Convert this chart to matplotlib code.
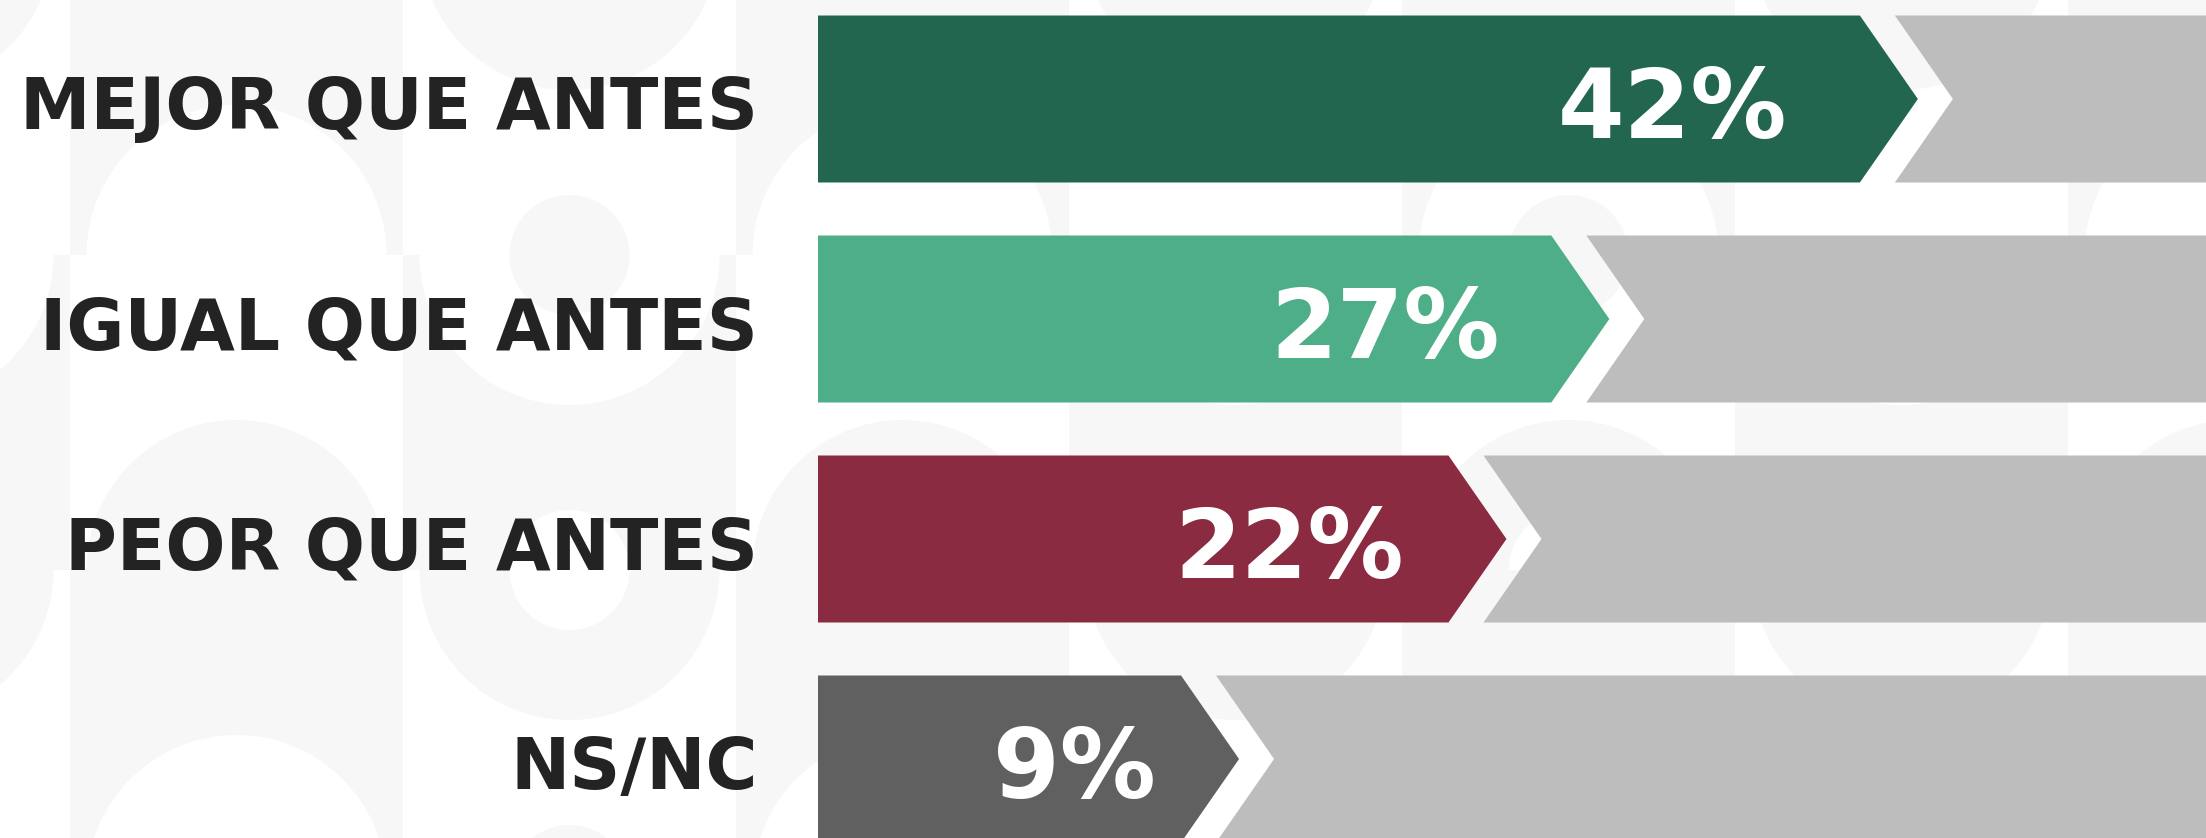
import matplotlib
matplotlib.use("Agg")
import matplotlib.pyplot as plt
from matplotlib.patches import Polygon, Circle, Rectangle

# ---- data ----
categories = ["MEJOR QUE ANTES", "IGUAL QUE ANTES", "PEOR QUE ANTES", "NS/NC"]
values = [42, 27, 22, 9]
value_labels = ["42%", "27%", "22%", "9%"]
bar_colors = ["#236650", "#4DAE88", "#8A2B41", "#606060"]
rest_color = "#BEBDBE"
text_color = "#232323"
pattern_color = "#F7F7F7"

# ---- layout ----
W, H, DPI = 2206, 838, 100
fig = plt.figure(figsize=(W / DPI, H / DPI), dpi=DPI)
fig.patch.set_facecolor("white")

# decorative background pattern (pixel space)
bg = fig.add_axes([0, 0, 1, 1], zorder=0)
bg.set_xlim(0, W)
bg.set_ylim(H, 0)
bg.axis("off")
cell_w, cell_h = 333, 315
for ci in range(-1, 8):
    for ri in range(-1, 4):
        x0 = 70 + ci * cell_w
        y0 = -60 + ri * cell_h
        gray_cell = (ci + ri) % 2 == 0
        if gray_cell:
            bg.add_patch(Rectangle((x0, y0), cell_w, cell_h, color=pattern_color, lw=0))
        cc = pattern_color if not gray_cell else "white"
        cx = x0 + cell_w / 2
        cy = y0 + (cell_h if (ci % 2 == 0) else 0)
        bg.add_patch(Circle((cx, cy), 150, color=cc, lw=0))
        if ci % 3 == 1:
            bg.add_patch(Circle((cx, cy), 60, color="white" if cc == pattern_color else pattern_color, lw=0))

ax = fig.add_axes([0, 0, 1, 1], zorder=1)
ax.patch.set_alpha(0)
ax.axis("off")

px_per_unit = 20.57          # horizontal scale (pixels per percentage point)
base = -8.65                 # bar start in value units
left_px = 818
xmin = base - left_px / px_per_unit
xmax = xmin + W / px_per_unit
ax.set_xlim(xmin, xmax)
row_px = 220
ax.set_ylim((H - 99) / row_px, -99 / row_px)

bar_h = 167 / row_px
tip = 58 / px_per_unit
gap = 35 / px_per_unit
rest_end = 100
label_frac = 0.93

for i, (cat, v, lab, col) in enumerate(zip(categories, values, value_labels, bar_colors)):
    top, bot = i - bar_h / 2, i + bar_h / 2
    ax.add_patch(Polygon([(base, top), (v, top), (v + tip, i), (v, bot), (base, bot)],
                         closed=True, facecolor=col, edgecolor="none"))
    g0 = v + gap
    ax.add_patch(Polygon([(g0, top), (rest_end, top), (rest_end, bot), (g0, bot), (g0 + tip, i)],
                         closed=True, facecolor=rest_color, edgecolor="none"))
    ax.annotate(cat, xy=(base, i), xytext=(-43, -21.6), textcoords="offset points",
                ha="right", va="baseline", fontsize=51, fontweight="bold",
                family="DejaVu Sans", color=text_color)
    ax.annotate(lab, xy=(base + label_frac * (v - base), i), xytext=(0, -28),
                textcoords="offset points",
                ha="right", va="baseline", fontsize=69, fontweight="bold",
                family="DejaVu Sans", color="white")

fig.savefig("out.png", dpi=DPI, facecolor=fig.get_facecolor())
